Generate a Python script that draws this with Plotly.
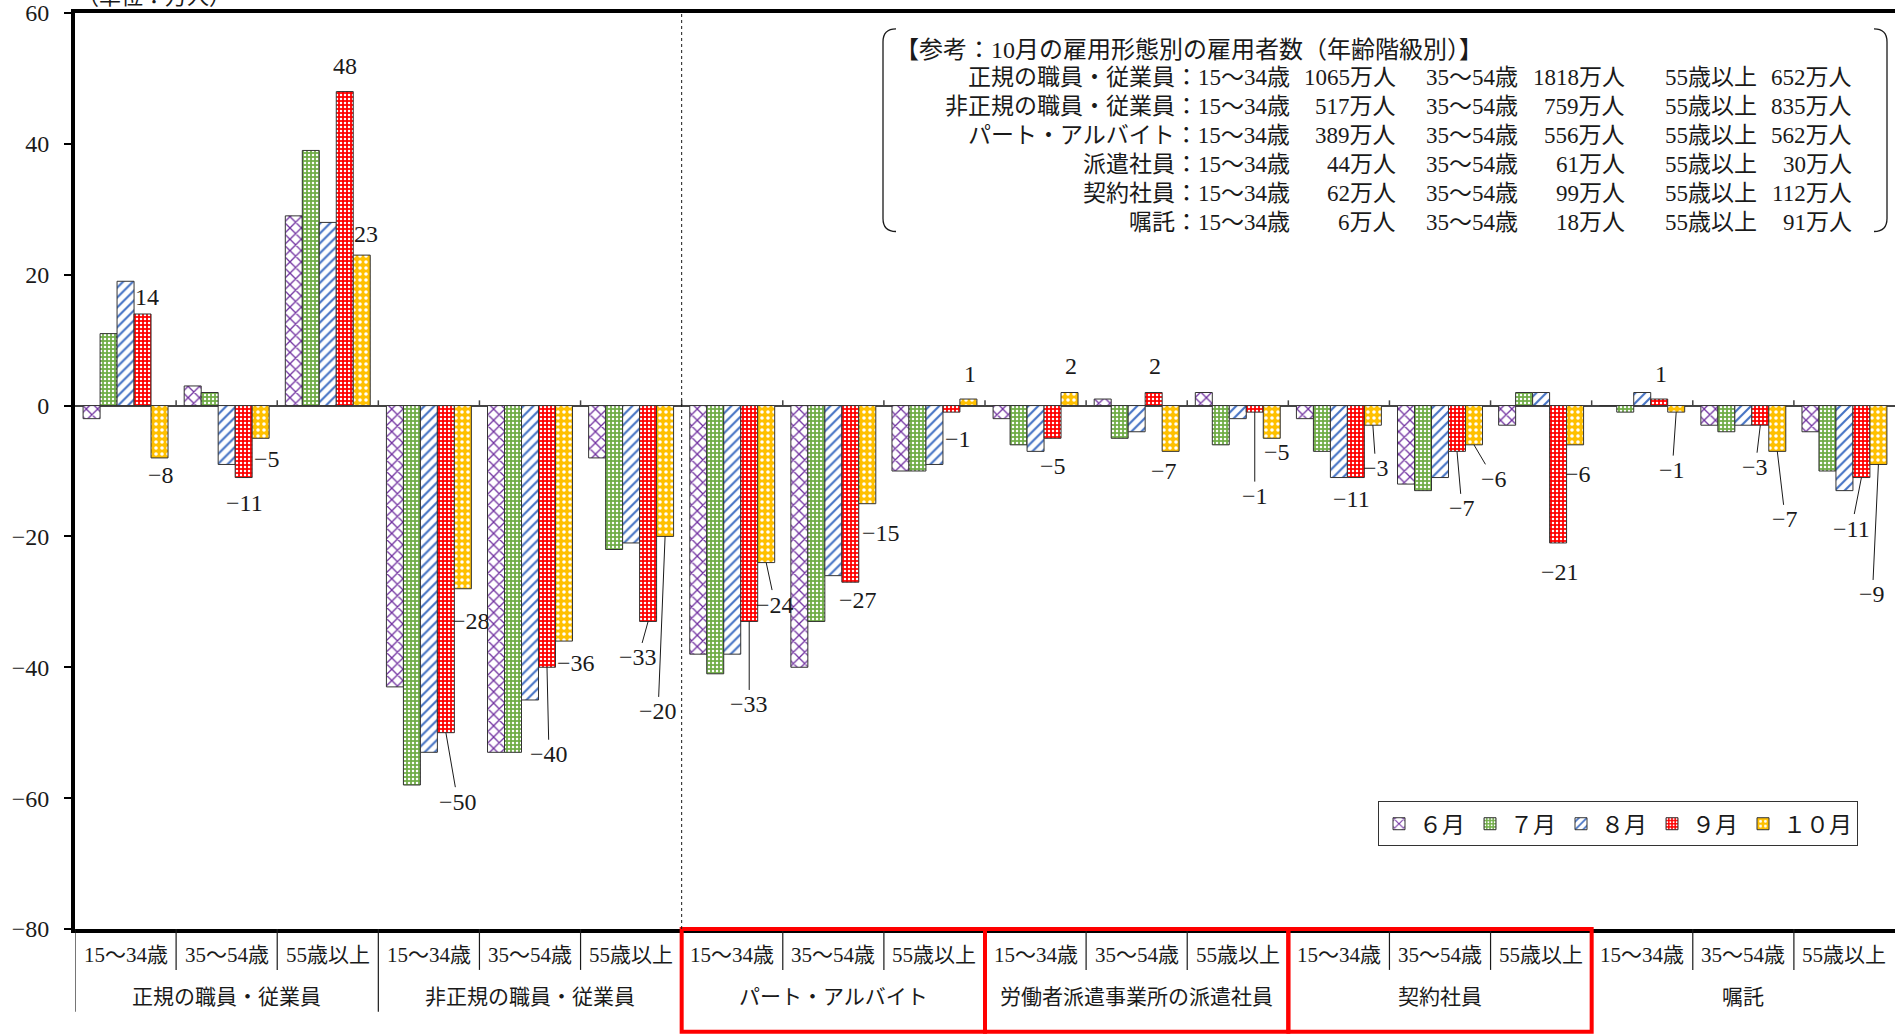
import plotly.graph_objects as go

# ---- categories -------------------------------------------------------------
ages = ["15～34歳", "35～54歳", "55歳以上"]
groups = ["正規の職員・従業員", "非正規の職員・従業員", "パート・アルバイト",
          "労働者派遣事業所の派遣社員", "契約社員", "嘱託"]
months = ["６月", "７月", "８月", "９月", "１０月"]
y_ticks = [60, 40, 20, 0, -20, -40, -60, -80]

# ---- year-on-year change in employees (万人), one value per group x age -------
jun = [-2, 3, 29, -43, -53, -8, -38, -40, -10, -2, 1, 2, -2, -12, -3, 0, -3, -4]
jul = [11, 2, 39, -58, -53, -22, -41, -33, -10, -6, -5, -6, -7, -13, 2, -1, -4, -10]
aug = [19, -9, 28, -53, -45, -21, -38, -26, -9, -7, -4, -2, -11, -11, 2, 2, -3, -13]
sep = [14, -11, 48, -50, -40, -33, -33, -27, -1, -5, 2, -1, -11, -7, -21, 1, -3, -11]
octo = [-8, -5, 23, -28, -36, -20, -24, -15, 1, 2, -7, -5, -3, -6, -6, -1, -7, -9]

# ---- reference box: October employees by type and age (万人) -----------------
ref_title = "【参考：10月の雇用形態別の雇用者数（年齢階級別）】"
ref_types = ["正規の職員・従業員", "非正規の職員・従業員", "パート・アルバイト",
             "派遣社員", "契約社員", "嘱託"]
ref_15_34 = [1065, 517, 389, 44, 62, 6]
ref_35_54 = [1818, 759, 556, 61, 99, 18]
ref_55_over = [652, 835, 562, 30, 112, 91]

unit_label = "（単位：万人）"

# ---- page geometry (pixels) ---------------------------------------------------
W, H = 1895, 1035
PL, PR, PT, PB = 75, 0, 11, 106
X0, X1 = PL, W - PR
Y0, Y1 = PT, H - PB


def px_x(px):
    return (px - X0) / (X1 - X0)


def px_y(py):
    return (Y1 - py) / (Y1 - Y0)


SERIF = "Liberation Serif, Noto Sans CJK JP, serif"
INK = "#1a1a1a"

categories = [(g, a) for g in groups for a in ages]
xpos = list(range(len(categories)))

series = [jun, jul, aug, sep, octo]
styles = [
    dict(shape="x", fgcolor="#7030A0", bgcolor="#ffffff", size=8, solidity=0.3),
    dict(shape=".", fgcolor="#ffffff", bgcolor="#70AD47", size=4, solidity=0.3),
    dict(shape="/", fgcolor="#4472C4", bgcolor="#ffffff", size=7, solidity=0.3),
    dict(shape=".", fgcolor="#ffffff", bgcolor="#FF0000", size=4, solidity=0.3),
    dict(shape=".", fgcolor="#ffffff", bgcolor="#FFC000", size=6, solidity=0.28),
]

BARGAP = 0.16
fig = go.Figure()
for name, vals, st in zip(months, series, styles):
    fig.add_trace(go.Bar(
        x=xpos, y=vals, name=name,
        marker=dict(color=st["bgcolor"],
                    line=dict(color="#333333", width=1),
                    pattern=dict(fillmode="replace", **st)),
        hoverinfo="skip",
    ))

annotations = []
shapes = []

# ---- data labels for September and October (offset px, leader line) -----------
sep_label_pos = [(4, -17, 0), (1, 25, 0), (0, -26, 0), (12, 69, 1), (2, 87, 1),
                 (-10, 36, 1), (0, 83, 1), (8, 18, 0), (7, 27, 0), (0, 28, 0),
                 (1, -27, 0), (0, 84, 1), (-4, 21, 0), (5, 57, 1), (2, 29, 0),
                 (2, -25, 0), (-5, 42, 1), (-10, 51, 1)]
oct_label_pos = [(1, 17, 0), (6, 21, 0), (4, -21, 0), (8, 32, 0), (12, 22, 0),
                 (-7, 175, 1), (9, 42, 1), (14, 29, 0), (2, -25, 0), (1, -27, 0),
                 (-7, 20, 0), (5, 14, 0), (3, 43, 1), (20, 34, 1), (3, 29, 0),
                 (-4, 58, 1), (8, 68, 1), (-6, 130, 1)]

n_series = len(series)
bar_w = (1 - BARGAP) / n_series
for k, vals, pos in [(3, sep, sep_label_pos), (4, octo, oct_label_pos)]:
    off = -(1 - BARGAP) / 2 + bar_w * (k + 0.5)
    for i, (v, (ax, ay, lead)) in enumerate(zip(vals, pos)):
        annotations.append(dict(
            x=i + off, y=v, xref="x", yref="y",
            text=str(v).replace("-", "−"),
            showarrow=True, arrowhead=0, arrowwidth=1,
            arrowcolor=INK if lead else "rgba(0,0,0,0)",
            ax=ax, ay=ay, standoff=0, startstandoff=0,
            font=dict(family=SERIF, size=24, color=INK),
        ))

# ---- category labels under the axis --------------------------------------------
for i, (g, a) in enumerate(categories):
    annotations.append(dict(x=i, y=px_y(955), xref="x", yref="paper", text=a,
                            xanchor="center", yanchor="middle", showarrow=False,
                            font=dict(family=SERIF, size=21, color=INK)))
for gi, g in enumerate(groups):
    annotations.append(dict(x=gi * 3 + 1, y=px_y(997), xref="x", yref="paper",
                            text=g, xanchor="center", yanchor="middle", showarrow=False,
                            font=dict(family=SERIF, size=21, color=INK)))

# separators between age and group cells
for b in range(len(categories)):
    xb = b - 0.5
    is_group = b % 3 == 0
    shapes.append(dict(type="line", xref="x", yref="paper", x0=xb, x1=xb,
                       y0=px_y(Y1), y1=px_y(1012 if is_group else 970),
                       line=dict(color=INK, width=1.2)))

# red frames around part-time, dispatched and contract groups
for gi in (2, 3, 4):
    shapes.append(dict(type="rect", xref="x", yref="paper",
                       x0=gi * 3 - 0.5, x1=gi * 3 + 2.5,
                       y0=px_y(1032), y1=px_y(Y1),
                       line=dict(color="#FF0000", width=4), layer="above"))

# small ticks on the zero line at category boundaries
for b in range(1, len(categories)):
    shapes.append(dict(type="line", xref="x", yref="y", x0=b - 0.5, x1=b - 0.5,
                       y0=0, y1=0.8, line=dict(color="#444444", width=1.5)))

# dotted divider between regular/non-regular and the breakdown groups
shapes.append(dict(type="line", xref="x", yref="paper", x0=5.5, x1=5.5, y0=0, y1=1,
                   line=dict(color=INK, width=1, dash="dot")))

# ---- reference box -------------------------------------------------------------
annotations.append(dict(x=px_x(893), y=px_y(48), xref="paper", yref="paper",
                        xanchor="left", yanchor="middle", text=ref_title, showarrow=False,
                        font=dict(family=SERIF, size=24, color=INK)))
row_y0, row_dy = 76, 29
for r, t in enumerate(ref_types):
    yy = px_y(row_y0 + r * row_dy)
    cells = [
        (1292, f"{t}：{ages[0]}"),
        (1398, f"{ref_15_34[r]}万人"),
        (1520, ages[1]),
        (1627, f"{ref_35_54[r]}万人"),
        (1759, ages[2]),
        (1854, f"{ref_55_over[r]}万人"),
    ]
    for xr, txt in cells:
        annotations.append(dict(x=px_x(xr), y=yy, xref="paper", yref="paper",
                                xanchor="right", yanchor="middle", text=txt,
                                showarrow=False,
                                font=dict(family=SERIF, size=23, color=INK)))


def bracket(xe, xi, ya, yb):
    return (f"M {px_x(xi)},{px_y(ya)} Q {px_x(xe)},{px_y(ya)} {px_x(xe)},{px_y(ya + 13)} "
            f"L {px_x(xe)},{px_y(yb - 13)} Q {px_x(xe)},{px_y(yb)} {px_x(xi)},{px_y(yb)}")


shapes.append(dict(type="path", xref="paper", yref="paper", path=bracket(883, 896, 27, 230),
                   line=dict(color=INK, width=1.3)))
shapes.append(dict(type="path", xref="paper", yref="paper", path=bracket(1887, 1874, 27, 230),
                   line=dict(color=INK, width=1.3)))

# unit label at the top-left, running off the top edge
annotations.append(dict(x=0, y=px_y(-6), xref="paper", yref="paper", xanchor="left",
                        yanchor="middle", text=unit_label, showarrow=False,
                        font=dict(family=SERIF, size=22, color=INK)))

fig.update_layout(
    width=W, height=H,
    margin=dict(l=PL, r=PR, t=PT, b=PB, pad=0),
    paper_bgcolor="white", plot_bgcolor="white",
    barmode="group", bargap=BARGAP, bargroupgap=0,
    font=dict(family=SERIF, color=INK),
    showlegend=True,
    legend=dict(orientation="h", x=px_x(1378), y=px_y(801), xanchor="left", yanchor="top",
                bordercolor="#333333", borderwidth=1, bgcolor="white",
                font=dict(family=SERIF, size=23, color=INK),
                itemwidth=30, tracegroupgap=0),
    xaxis=dict(range=[-0.5, len(categories) - 0.5], showticklabels=False, ticks="",
               showgrid=False, zeroline=False, showline=True, linewidth=4,
               linecolor="black", mirror=True, fixedrange=True),
    yaxis=dict(range=[-80.01, 60.01], tickvals=y_ticks, ticks="outside", ticklen=7,
               tickwidth=1.5, tickcolor="black", showgrid=False,
               zeroline=True, zerolinecolor="#444444", zerolinewidth=1.5,
               showline=True, linewidth=4, linecolor="black", mirror=False,
               tickfont=dict(family=SERIF, size=24, color=INK),
               ticklabeloverflow="allow",
               ticklabelstandoff=10, fixedrange=True),
    annotations=annotations,
    shapes=shapes,
)

fig.write_html("out.html")
